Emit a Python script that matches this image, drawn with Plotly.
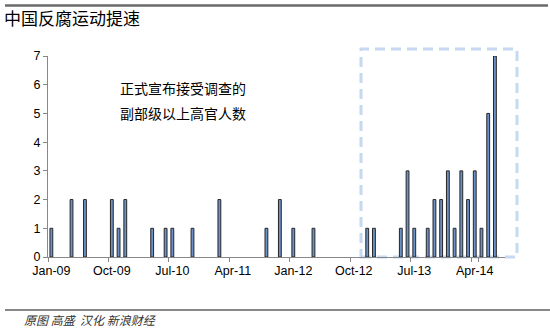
import plotly.graph_objects as go

# Monthly categories Jan-09 .. Aug-14
month_names = ["Jan", "Feb", "Mar", "Apr", "May", "Jun", "Jul", "Aug", "Sep", "Oct", "Nov", "Dec"]
months = []
for yr in range(9, 15):
    for m in month_names:
        months.append(f"{m}-{yr:02d}")
months = months[:68]

# Number of officials (vice-ministerial and above) announced under investigation, by month index
event_index = [0, 3, 5, 9, 10, 11, 15, 17, 18, 21, 25, 32, 34, 36, 39, 47, 48,
               52, 53, 54, 56, 57, 58, 59, 60, 61, 62, 63, 64, 65, 66]
event_count = [1, 2, 2, 2, 1, 2, 1, 1, 1, 1, 2, 1, 2, 1, 1, 1, 1,
               1, 3, 1, 1, 2, 2, 3, 1, 3, 2, 3, 1, 5, 7]

values = [0] * len(months)
for i, v in zip(event_index, event_count):
    values[i] = v

tick_labels = ["Jan-09", "Oct-09", "Jul-10", "Apr-11", "Jan-12", "Oct-12", "Jul-13", "Apr-14"]
y_ticks = [0, 1, 2, 3, 4, 5, 6, 7]

title_text = "中国反腐运动提速"
note_lines = ["正式宣布接受调查的", "副部级以上高官人数"]
source_text = "原图 高盛  汉化 新浪财经"

W, H = 550, 328
ML, MR, MT, MB = 48, 45, 56, 71
PW = W - ML - MR
PH = H - MT - MB


def px(x):
    return (x - ML) / PW


def py(y):
    return (H - MB - y) / PH


fig = go.Figure()
fig.add_trace(go.Bar(
    x=months, y=[v if v > 0 else None for v in values],
    marker=dict(color="#6b92c8", line=dict(color="#262626", width=1)),
    width=0.42,
    hoverinfo="x+y",
))

fig.update_layout(
    width=W, height=H,
    margin=dict(l=ML, r=MR, t=MT, b=MB),
    paper_bgcolor="white", plot_bgcolor="white",
    showlegend=False,
    font=dict(family="Liberation Sans, Arial, sans-serif", size=12, color="#000"),
)

fig.update_xaxes(
    type="category",
    categoryorder="array", categoryarray=months,
    range=[-0.5, len(months) - 0.5],
    tickmode="array", tickvals=tick_labels, ticktext=tick_labels,
    tickson="boundaries", tickangle=0, ticklabelstandoff=2,
    ticks="outside", ticklen=4, tickcolor="#888",
    showline=True, linecolor="#888", linewidth=1,
    showgrid=False, zeroline=False,
    tickfont=dict(size=12.5, family="Liberation Sans, Arial, sans-serif"),
)
fig.update_yaxes(
    range=[0, 7],
    tickmode="array", tickvals=y_ticks,
    ticks="outside", ticklen=4, tickcolor="#888",
    showline=True, linecolor="#888", linewidth=1,
    showgrid=False, zeroline=False,
    tickfont=dict(size=12.5, family="Liberation Sans, Arial, sans-serif"),
)

# Title
fig.add_annotation(text=title_text, xref="paper", yref="paper",
                   x=px(2), y=py(18), xanchor="left", yanchor="middle",
                   showarrow=False,
                   font=dict(family="Noto Sans CJK SC", size=17, color="#000"))

# Top rule
fig.add_shape(type="line", xref="paper", yref="paper",
              x0=px(5), x1=px(548), y0=py(5.5), y1=py(5.5),
              line=dict(color="#6a6a6a", width=2.5))

# Bottom rule
fig.add_shape(type="line", xref="paper", yref="paper",
              x0=px(5), x1=px(550), y0=py(310), y1=py(310),
              line=dict(color="#111", width=1))

fig.add_annotation(text=source_text, xref="paper", yref="paper",
                   x=px(22), y=py(319),
                   xanchor="left", yanchor="middle", showarrow=False,
                   font=dict(family="Noto Sans CJK SC", size=12, color="#333", style="italic"))

for k, line in enumerate(note_lines):
    fig.add_annotation(text=line, xref="paper", yref="paper",
                       x=px(118), y=py(88 + 25 * k),
                       xanchor="left", yanchor="middle", showarrow=False,
                       font=dict(family="Noto Sans CJK SC", size=14, color="#000"))

# Highlight box (dashed)
fig.add_shape(type="rect", xref="paper", yref="paper",
              x0=px(361), x1=px(517), y0=py(257), y1=py(49),
              line=dict(color="#c6d9f1", width=3, dash="10px,6px"),
              layer="below")

fig.write_html("out.html")
